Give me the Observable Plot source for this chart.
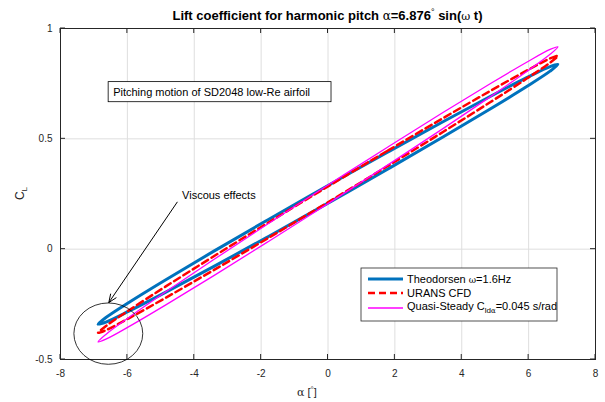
<!DOCTYPE html>
<html><head><meta charset="utf-8">
<script src="https://cdn.jsdelivr.net/npm/d3@7"></script>
<script src="https://cdn.jsdelivr.net/npm/@observablehq/plot@0.6"></script>
<style>body{margin:0;background:#fff} svg{display:block}</style>
</head><body><div id="chart"></div>
<script>
// Angle of attack around one pitch cycle (deg)
const alpha = [0, 1.780, 3.438, 4.862, 5.955, 6.642, 6.876, 6.642, 5.955, 4.862, 3.438, 1.780,
               0, -1.780, -3.438, -4.862, -5.955, -6.642, -6.876, -6.642, -5.955, -4.862, -3.438, -1.780];
// Lift coefficient read from each loop
const clTheodorsen = [0.2885, 0.4395, 0.5774, 0.6930, 0.7782, 0.8275, 0.8371, 0.8067, 0.7382, 0.6364, 0.5082, 0.3623,
                      0.2085, 0.0575, -0.0804, -0.1960, -0.2812, -0.3305, -0.3401, -0.3097, -0.2412, -0.1394, -0.0112, 0.1347];
const clUrans = [0.2845, 0.4458, 0.5936, 0.7179, 0.8102, 0.8642, 0.8763, 0.8456, 0.7742, 0.6669, 0.5312, 0.3762,
                 0.2125, 0.0512, -0.0966, -0.2209, -0.3132, -0.3672, -0.3793, -0.3486, -0.2772, -0.1699, -0.0342, 0.1208];
const clQuasiSteady = [0.2905, 0.4621, 0.6191, 0.7508, 0.8483, 0.9050, 0.9168, 0.8832, 0.8063, 0.6914, 0.5463, 0.3809,
                       0.2065, 0.0349, -0.1221, -0.2538, -0.3513, -0.4080, -0.4198, -0.3862, -0.3093, -0.1944, -0.0493, 0.1161];
const xTicks = [-8, -6, -4, -2, 0, 2, 4, 6, 8];
const yTicks = [-0.5, 0, 0.5, 1];
const seriesNames = ["Theodorsen", "URANS CFD", "Quasi-Steady"];
const seriesColors = ["#0072BD", "#FF0000", "#FF00FF"];
const seriesWidths = [3, 2.5, 1.3];
const seriesDash = [null, "7,4", null];
const seriesValues = [clTheodorsen, clUrans, clQuasiSteady];

// annotations in data units
const circleAnno = {alpha: -6.555, cl: -0.385, rAlpha: 1.03, rCl: 0.139};
const arrowAnno = {a1: -4.51, c1: 0.213, a2: -6.555, c2: -0.242};
const viscousText = {alpha: -4.35, cl: 0.243, label: "Viscous effects"};
const boxAnno = {a1: -6.56, c1: 0.757, a2: 0.105, c2: 0.666, label: "Pitching motion of SD2048 low-Re airfoil"};

const W = 605, H = 402;
const mL = 60, mR = 10, mT = 28, mB = 43;
const FONT = "'Liberation Sans', Arial, Helvetica, sans-serif";
const AX = "#262626";

const lineMarks = seriesNames.map((name, k) => {
  const rows = alpha.map((a, i) => ({alpha: a, cl: seriesValues[k][i]}));
  return Plot.line(rows, {x: "alpha", y: "cl", curve: "catmull-rom-closed",
    stroke: seriesColors[k], strokeWidth: seriesWidths[k],
    strokeDasharray: seriesDash[k] || undefined, strokeLinejoin: "round"});
});

const plot = Plot.plot({
  width: W, height: H, marginLeft: mL, marginRight: mR, marginTop: mT, marginBottom: mB,
  style: {fontFamily: FONT, fontSize: "10px", color: AX, background: "white", overflow: "visible"},
  x: {domain: [-8, 8], label: null},
  y: {domain: [-0.5, 1], label: null},
  marks: [
    Plot.gridX(xTicks, {stroke: "#dedede", strokeOpacity: 1, strokeWidth: 1}),
    Plot.gridY(yTicks, {stroke: "#dedede", strokeOpacity: 1, strokeWidth: 1}),
    ...lineMarks,
    Plot.frame({stroke: AX, strokeWidth: 1}),
    Plot.axisX(xTicks, {tickSize: 0, tickPadding: 10, tickFormat: d => String(d), label: null, fill: AX}),
    Plot.axisY(yTicks, {tickSize: 0, tickPadding: 8, tickFormat: d => String(d), label: null, fill: AX}),
    Plot.arrow([arrowAnno], {x1: "a1", y1: "c1", x2: "a2", y2: "c2", stroke: "black", strokeWidth: 1,
      headLength: 13, headAngle: 45})
  ]
});
document.getElementById("chart").appendChild(plot);

const sx = plot.scale("x"), sy = plot.scale("y");
const X = v => sx.apply(v), Y = v => sy.apply(v);
const svg = d3.select(plot);
const g = svg.append("g").attr("font-family", FONT).attr("text-anchor", "start");

// inward ticks on all four sides
const x0 = X(-8), x1 = X(8), y0 = Y(-0.5), y1 = Y(1);
const TL = 5;
xTicks.forEach(t => {
  g.append("line").attr("x1", X(t)).attr("x2", X(t)).attr("y1", y0).attr("y2", y0 - TL).attr("stroke", AX);
  g.append("line").attr("x1", X(t)).attr("x2", X(t)).attr("y1", y1).attr("y2", y1 + TL).attr("stroke", AX);
});
yTicks.forEach(t => {
  g.append("line").attr("y1", Y(t)).attr("y2", Y(t)).attr("x1", x0).attr("x2", x0 + TL).attr("stroke", AX);
  g.append("line").attr("y1", Y(t)).attr("y2", Y(t)).attr("x1", x1).attr("x2", x1 - TL).attr("stroke", AX);
});

// title
const title = g.append("text").attr("x", (x0 + x1) / 2).attr("y", 20).attr("text-anchor", "middle")
  .attr("font-size", 13).attr("font-weight", "bold").attr("fill", "black");
title.append("tspan").text("Lift coefficient for harmonic pitch ");
title.append("tspan").attr("font-family", "'DejaVu Serif', serif").attr("font-weight", "normal").attr("font-size", 12).text("α");
title.append("tspan").text("=6.876");
title.append("tspan").attr("dy", -5).attr("font-size", 9).attr("font-weight", "normal").text("°");
title.append("tspan").attr("dy", 5).text(" sin(");
title.append("tspan").attr("font-family", "'DejaVu Serif', serif").attr("font-weight", "normal").attr("font-size", 11).text("ω");
title.append("tspan").text(" t)");

// x label
const xl = g.append("text").attr("x", 297).attr("y", 396).attr("text-anchor", "start")
  .attr("font-size", 11).attr("fill", AX);
xl.append("tspan").attr("font-family", "'DejaVu Serif', serif").text("α");
xl.append("tspan").text(" [");
xl.append("tspan").attr("dy", -4).attr("font-size", 8).text("°");
xl.append("tspan").attr("dy", 4).text("]");

// y label
const yl = g.append("text").attr("transform", `translate(24,${(y0 + y1) / 2})rotate(-90)`)
  .attr("text-anchor", "middle").attr("font-size", 12).attr("fill", AX);
yl.append("tspan").text("C");
yl.append("tspan").attr("dy", 3).attr("font-size", 8).text("L");

// circle annotation
g.append("ellipse").attr("cx", X(circleAnno.alpha)).attr("cy", Y(circleAnno.cl))
  .attr("rx", X(circleAnno.alpha + circleAnno.rAlpha) - X(circleAnno.alpha))
  .attr("ry", Y(circleAnno.cl - circleAnno.rCl) - Y(circleAnno.cl))
  .attr("fill", "none").attr("stroke", "black").attr("stroke-width", 0.8);

// viscous effects text
g.append("text").attr("x", X(viscousText.alpha)).attr("y", Y(viscousText.cl) + 4)
  .attr("font-size", 11).attr("fill", "black").text(viscousText.label);

// text box
g.append("rect").attr("x", X(boxAnno.a1)).attr("y", Y(boxAnno.c1))
  .attr("width", X(boxAnno.a2) - X(boxAnno.a1)).attr("height", Y(boxAnno.c2) - Y(boxAnno.c1))
  .attr("fill", "white").attr("stroke", "black").attr("stroke-width", 0.8);
g.append("text").attr("x", X(boxAnno.a1) + 5).attr("y", (Y(boxAnno.c1) + Y(boxAnno.c2)) / 2 + 4)
  .attr("font-size", 11).attr("fill", "black").text(boxAnno.label);

// legend
const lg = g.append("g");
lg.append("rect").attr("x", 361).attr("y", 268).attr("width", 196).attr("height", 53)
  .attr("fill", "white").attr("stroke", AX).attr("stroke-width", 0.8);
const rowsY = [279, 293, 308];
seriesNames.forEach((name, k) => {
  lg.append("line").attr("x1", 368).attr("x2", 403).attr("y1", rowsY[k]).attr("y2", rowsY[k])
    .attr("stroke", seriesColors[k]).attr("stroke-width", seriesWidths[k])
    .attr("stroke-dasharray", seriesDash[k]);
});
const t1 = lg.append("text").attr("x", 407).attr("y", rowsY[0] + 4).attr("font-size", 11).attr("fill", "black");
t1.append("tspan").text("Theodorsen ");
t1.append("tspan").attr("font-family", "'DejaVu Serif', serif").attr("font-size", 9).text("ω");
t1.append("tspan").text("=1.6Hz");
lg.append("text").attr("x", 407).attr("y", rowsY[1] + 4).attr("font-size", 11).attr("fill", "black").text("URANS CFD");
const t3 = lg.append("text").attr("x", 407).attr("y", rowsY[2] + 2).attr("font-size", 11).attr("fill", "black");
t3.append("tspan").text("Quasi-Steady C");
t3.append("tspan").attr("dy", 3).attr("font-size", 8).text("ld");
t3.append("tspan").attr("font-family", "'DejaVu Serif', serif").attr("font-size", 7).text("α");
t3.append("tspan").attr("dy", -3).text("=0.045 s/rad");
</script>
</body></html>
